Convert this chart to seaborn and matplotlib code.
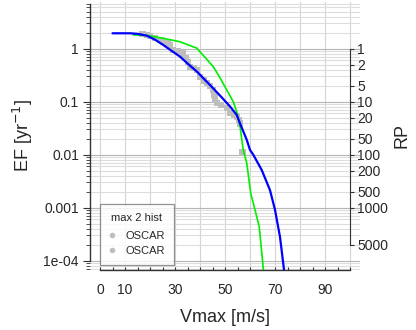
import numpy as np
import pandas as pd
import matplotlib
matplotlib.use("Agg")
import matplotlib.pyplot as plt
import seaborn as sns
from matplotlib.lines import Line2D
from matplotlib.ticker import LogLocator, NullFormatter, FixedLocator, FixedFormatter

# ---- data ----
blue_x = [5, 12, 15, 18.7, 22, 25.3, 28, 32, 35, 38.7, 42, 45.3, 48.7, 52, 54.7, 56,
          58.7, 60, 61.3, 64.7, 68, 70, 72, 73.6]
blue_logef = [0.29, 0.29, 0.28, 0.245, 0.17, 0.07, -0.02, -0.15, -0.28, -0.43, -0.59, -0.75,
              -0.92, -1.09, -1.25, -1.41, -1.72, -1.91, -2.0, -2.29, -2.67, -3.04, -3.55, -4.17]

green_x = [13.3, 18.7, 25.3, 32, 38.7, 40, 42.7, 45.3, 48, 50.7, 53.3, 54.7, 56, 57.3,
           58.7, 60.3, 62, 63.7, 65.1, 65.3]
green_logef = [0.26, 0.25, 0.196, 0.13, 0.01, -0.06, -0.2, -0.34, -0.55, -0.78, -1.0, -1.19,
               -1.47, -1.91, -2.16, -2.73, -3.04, -3.36, -4.04, -4.17]

obs_x = [17, 18.7, 20, 22, 24, 25.3, 27, 28, 29.3, 31, 33.3, 34.5, 35.3, 36, 37.5, 38.7,
         40, 41.5, 42.7, 44, 45.3, 45.8, 46, 46.7, 48.5, 50.7, 52, 53.5, 54.7, 55.5, 56, 57]
obs_logef = [0.27, 0.26, 0.24, 0.2, 0.16, 0.13, 0.1, 0.07, -0.02, -0.05, -0.09, -0.17, -0.25,
             -0.34, -0.37, -0.40, -0.53, -0.6, -0.65, -0.7, -0.78, -0.88, -0.97, -1.03, -1.07,
             -1.12, -1.22, -1.25, -1.28, -1.35, -1.41, -1.96]

x_tick_labels = [0, 10, 30, 50, 70, 90]
rp_ticks = [1, 2, 5, 10, 20, 50, 100, 200, 500, 1000, 5000]
ef_ticks = [1, 0.1, 0.01, 0.001, 1e-4]
ef_tick_labels = ["1", "0.1", "0.01", "0.001", "1e-04"]
legend_title = "max 2 hist"
legend_labels = ["OSCAR", "OSCAR"]

blue = pd.DataFrame({"x": blue_x, "ef": 10 ** np.array(blue_logef)})
green = pd.DataFrame({"x": green_x, "ef": 10 ** np.array(green_logef)})
obs = pd.DataFrame({"x": obs_x, "ef": 10 ** np.array(obs_logef)})

sns.set_style("white")
plt.rcParams["font.family"] = ["Liberation Sans", "DejaVu Sans"]

W, H = 416, 330
fig = plt.figure(figsize=(W / 100, H / 100), dpi=100)
L, R, T, B = 90, 360, 2, 270
ax = fig.add_axes([L / W, 1 - B / H, (R - L) / W, (B - T) / H])
ax.set_facecolor("white")

ax.set_yscale("log")
ylo, yhi = 10 ** -4.175, 10 ** 0.88
ax.set_xlim(-4, 104)
ax.set_ylim(ylo, yhi)

# grid
for xv in range(0, 101, 10):
    ax.axvline(xv, color="#d4d4d4", lw=0.8, zorder=0)
for dec in range(-5, 1):
    for m in range(1, 10):
        v = m * 10.0 ** dec
        if ylo <= v <= yhi:
            ax.axhline(v, color="#b5b5b5" if m == 1 else "#dddddd", lw=0.8, zorder=0)

sns.scatterplot(data=obs, x="x", y="ef", ax=ax, color="#bebebe", s=20, edgecolor="none",
                marker="s", zorder=2, legend=False)
sns.lineplot(data=green, x="x", y="ef", ax=ax, color="#00ee00", lw=1.2, sort=False,
             estimator=None, zorder=3)
sns.lineplot(data=blue, x="x", y="ef", ax=ax, color="#0000ff", lw=1.6, sort=False,
             estimator=None, zorder=4)

# spines
for s in ["top", "right"]:
    ax.spines[s].set_visible(False)
ax.spines["left"].set_bounds(1e-4, 7)
ax.spines["bottom"].set_bounds(0, 100)
for s in ["left", "bottom"]:
    ax.spines[s].set_color("#333333")
    ax.spines[s].set_linewidth(1.0)

ax.set_xticks(np.arange(0, 101, 5))
ax.set_xticklabels([str(int(v)) if v in x_tick_labels else "" for v in np.arange(0, 101, 5)])
ax.tick_params(axis="x", direction="in", length=2.5, width=0.8, color="#333333",
               labelsize=10, pad=9, bottom=True)
ax.yaxis.set_major_locator(FixedLocator(ef_ticks))
ax.yaxis.set_major_formatter(FixedFormatter(ef_tick_labels))
ax.yaxis.set_minor_locator(LogLocator(base=10, subs=np.arange(2, 10)))
ax.yaxis.set_minor_formatter(NullFormatter())
ax.tick_params(axis="y", which="major", direction="out", length=5, width=0.8,
               color="#333333", labelsize=10, pad=3, left=True)
ax.tick_params(axis="y", which="minor", direction="out", length=3, width=0.6,
               color="#333333", left=True)
ax.set_xlabel("Vmax [m/s]", fontsize=13, labelpad=9)
ax.set_ylabel("EF [yr$^{-1}$]", fontsize=13, labelpad=6)

# right RP axis
ax2 = ax.twinx()
ax2.set_yscale("log")
ax2.set_ylim(ylo, yhi)
ax2.yaxis.set_major_locator(FixedLocator([1.0 / r for r in rp_ticks]))
ax2.yaxis.set_major_formatter(FixedFormatter([str(r) for r in rp_ticks]))
ax2.yaxis.set_minor_locator(FixedLocator([]))
for s in ["top", "left", "bottom"]:
    ax2.spines[s].set_visible(False)
ax2.spines["right"].set_position(("axes", 104 / 108))
ax2.spines["right"].set_bounds(1 / 5000, 1)
ax2.spines["right"].set_color("#333333")
ax2.tick_params(axis="y", direction="out", length=3, width=0.8, color="#333333",
                labelsize=10, pad=2, right=True)
ax2.set_ylabel("RP", fontsize=13, labelpad=4)

handles = [Line2D([], [], ls="none", marker="o", ms=4, color="#bebebe", mec="none")
           for _ in legend_labels]
leg = ax.legend(handles, legend_labels, title=legend_title, loc="lower left",
                bbox_to_anchor=((100 - L) / (R - L), (B - 265) / (B - T)),
                fontsize=8, title_fontsize=8, frameon=True, fancybox=False,
                borderpad=0.8, handlelength=0.6, handletextpad=0.9, labelspacing=0.45,
                borderaxespad=0)
leg._legend_box.sep = 6
leg.get_frame().set_edgecolor("#777777")
leg.get_frame().set_linewidth(0.9)

fig.savefig("out.png", dpi=100)
